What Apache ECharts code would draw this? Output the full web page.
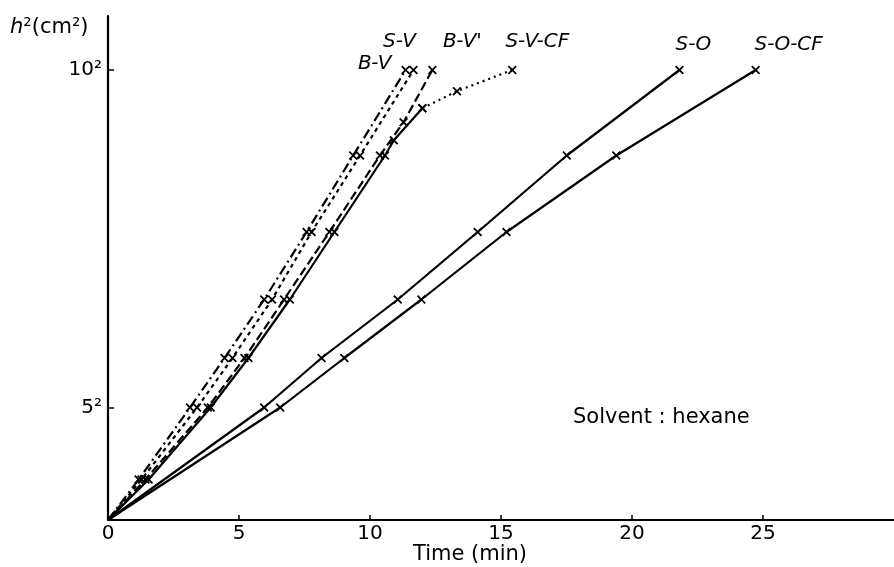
<!DOCTYPE html>
<html>
<head>
<meta charset="utf-8">
<script src="https://cdn.jsdelivr.net/npm/echarts@6/dist/echarts.min.js"></script>
<style>
  html, body { margin: 0; padding: 0; background: #fff; }
  #chart { width: 894px; height: 567px; }
</style>
</head>
<body>
<div id="chart"></div>
<script>
// time in minutes, h^2 in cm^2
var bvTime   = [0, 1.17, 3.13, 4.45, 5.96, 7.58, 9.36, 11.36];
var bvH2     = [0, 9, 25, 36, 49, 64, 81, 100];
var svTime   = [0, 1.28, 3.40, 4.75, 6.26, 7.77, 9.62, 11.66];
var svH2     = [0, 9, 25, 36, 49, 64, 81, 100];
var bvpTime  = [0, 1.43, 3.81, 5.21, 6.72, 8.45, 10.38, 11.28, 12.38];
var bvpH2    = [0, 9, 25, 36, 49, 64, 81, 88.4, 100];
var svcfTime = [0, 1.55, 3.92, 5.36, 6.94, 8.64, 10.57, 10.91, 12.0];
var svcfH2   = [0, 9, 25, 36, 49, 64, 81, 84.4, 91.5];
var svcfTailTime = [12.0, 13.32, 15.43];
var svcfTailH2   = [91.5, 95.3, 100];
var soTime   = [0, 5.96, 8.15, 11.06, 14.11, 17.51, 21.81];
var soH2     = [0, 25, 36, 49, 64, 81, 100];
var socfTime = [0, 6.57, 9.02, 11.96, 15.21, 19.4, 24.72];
var socfH2   = [0, 25, 36, 49, 64, 81, 100];

var xTicks = [0, 5, 10, 15, 20, 25];
var yTicks = [25, 100];
var yTickLabels = {25: '5²', 100: '10²'};

var FONT = 'DejaVu Sans';
var cross = 'path://M0,1.4L1.4,0L5,3.6L8.6,0L10,1.4L6.4,5L10,8.6L8.6,10L5,6.4L1.4,10L0,8.6L3.6,5Z';

function pairs(xs, ys) {
    var data = [];
    for (var i = 0; i < xs.length; i++) {
        data.push([xs[i], ys[i]]);
    }
    return data;
}

function makeSeries(name, xs, ys, dash, labelOffset, skipFirstSymbol) {
    var n = xs.length;
    return {
        type: 'line',
        name: name,
        data: pairs(xs, ys),
        symbol: function (v, p) {
            return (skipFirstSymbol && p.dataIndex === 0) ? 'none' : cross;
        },
        symbolSize: 9,
        itemStyle: {color: '#000'},
        lineStyle: {color: '#000', width: 2.2, type: dash},
        label: {
            show: !!labelOffset,
            position: 'top',
            offset: labelOffset || [0, 0],
            fontFamily: FONT,
            fontStyle: 'italic',
            fontSize: 20,
            color: '#000',
            formatter: function (p) {
                return p.dataIndex === n - 1 ? name : '';
            }
        },
        emphasis: {disabled: true},
        animation: false,
        z: 3
    };
}

var chart = echarts.init(document.getElementById('chart'), null, {renderer: 'canvas'});

var option = {
    backgroundColor: '#fff',
    animation: false,
    grid: {left: 108, right: -9, top: 16, bottom: 47},
    xAxis: {
        type: 'value',
        min: 0,
        max: 30,
        interval: 5,
        axisLine: {show: true, onZero: false, lineStyle: {color: '#000', width: 2.2}},
        axisTick: {show: true, inside: true, length: 5, customValues: xTicks, lineStyle: {color: '#000', width: 1.5}},
        axisLabel: {
            customValues: xTicks,
            margin: 4,
            fontFamily: FONT,
            fontSize: 20,
            color: '#000'
        },
        splitLine: {show: false}
    },
    yAxis: {
        type: 'value',
        min: 0,
        max: 112,
        axisLine: {show: true, onZero: false, lineStyle: {color: '#000', width: 2.2}},
        axisTick: {show: true, inside: true, length: 6, customValues: yTicks, lineStyle: {color: '#000', width: 1.5}},
        axisLabel: {
            customValues: yTicks,
            margin: 6,
            fontFamily: FONT,
            fontSize: 20,
            color: '#000',
            formatter: function (v) { return yTickLabels[v] || ''; }
        },
        splitLine: {show: false}
    },
    graphic: [
        {
            type: 'text', left: 10, top: 17,
            style: {
                text: '{i|h}²(cm²)',
                font: '21px ' + FONT,
                fill: '#000',
                rich: {i: {fontStyle: 'italic', fontFamily: FONT, fontSize: 21}}
            }
        },
        {
            type: 'text', left: 413, top: 544,
            style: {text: 'Time (min)', font: '21px ' + FONT, fill: '#000'}
        },
        {
            type: 'text', left: 573, top: 407,
            style: {text: 'Solvent : hexane', font: '21px ' + FONT, fill: '#000'}
        }
    ],
    series: [
        makeSeries('B-V', bvTime, bvH2, [10, 4, 2, 4], [-31, 13], true),
        makeSeries('S-V', svTime, svH2, [4, 4], [-14, -9], true),
        makeSeries("B-V'", bvpTime, bvpH2, [9, 4], [30, -9], true),
        makeSeries('S-V-CF', svcfTime, svcfH2, 'solid', null, true),
        makeSeries('S-V-CF', svcfTailTime, svcfTailH2, [2, 4], [25, -9], false),
        makeSeries('S-O', soTime, soH2, 'solid', [14, -6], true),
        makeSeries('S-O-CF', socfTime, socfH2, 'solid', [33, -6], true)
    ]
};

chart.setOption(option);
</script>
</body>
</html>
